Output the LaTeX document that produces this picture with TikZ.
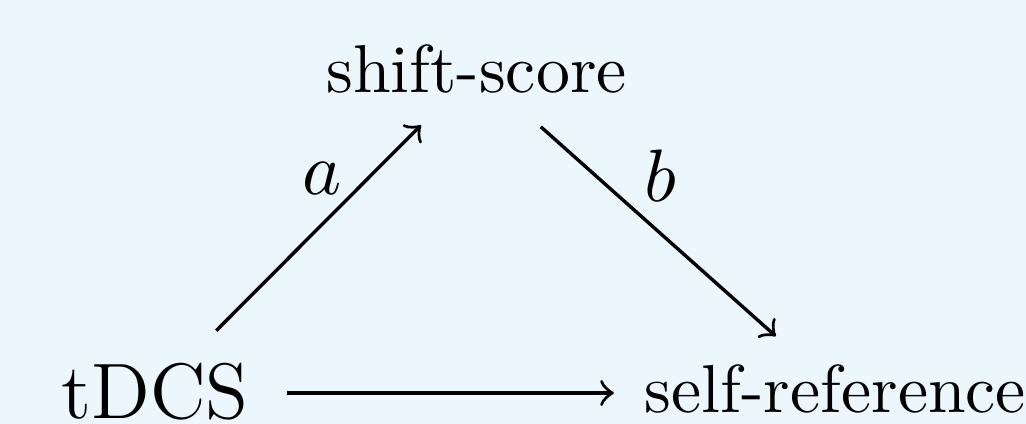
\documentclass[tikz,border=0pt]{standalone}
\begin{document}
\begin{tikzpicture}[x=0.14749pt,y=-0.14749pt,line width=0.5pt,
  txt/.style={inner sep=0pt,anchor=base,font=\fontsize{10pt}{12pt}\selectfont},
  bigtxt/.style={inner sep=0pt,anchor=base,font=\fontsize{11.6pt}{14pt}\selectfont},
  lbl/.style={inner sep=0pt,anchor=base,font=\fontsize{11pt}{13pt}\selectfont},
  arr/.style={->}]
\definecolor{bg}{RGB}{235,247,252}
\fill[bg] (0,0) rectangle (1026,424);
\useasboundingbox (0,0) rectangle (1026,424);
\node[txt] (shift) at (476.5,93) {shift-score};
\node[bigtxt] (tdcs) at (155,419) {tDCS};
\node[txt] (selfref) at (835.5,413) {self-reference};
\node[lbl] (la) at (322,195) {$a$};
\node[lbl] (lb) at (660,202) {$b$};
\draw[arr,shorten <=12.8pt,shorten >=11.6pt] (tdcs.center) -- (shift.center);
\draw[arr,shorten <=12.7pt,shorten >=11.8pt] (shift.center) -- (selfref.center);
\draw[arr,shorten <=19.5pt,shorten >=32.7pt] (tdcs.center |- 0,393) -- (selfref.center |- 0,393);
\end{tikzpicture}
\end{document}
